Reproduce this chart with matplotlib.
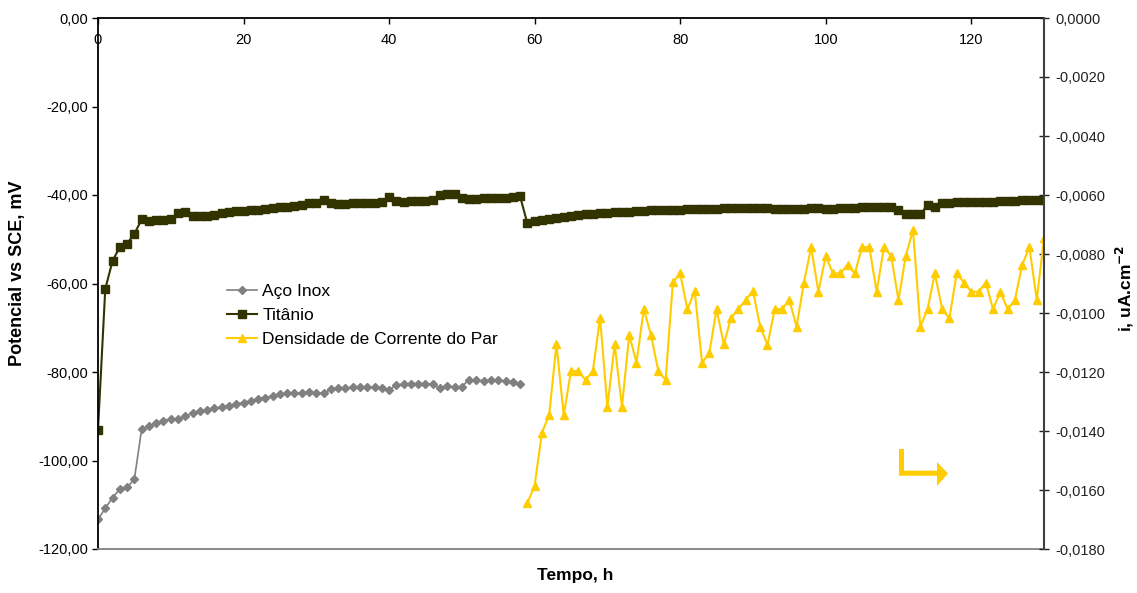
import matplotlib
matplotlib.use('Agg')
import matplotlib.pyplot as plt
from matplotlib.patches import Polygon
from matplotlib.ticker import FuncFormatter, MultipleLocator

plt.rcParams['font.family'] = ['Liberation Sans', 'DejaVu Sans']

# hours, one reading per hour
horas_inox = list(range(0, 59))
horas_ti = list(range(0, 131))
horas_par = list(range(59, 131))

# potential, mV vs SCE
aco_inox = [
    -113.3, -110.8, -108.4, -106.5, -106.1, -104.2, -92.9, -92.2, -91.6, -91.0,
    -90.6, -90.6, -90.0, -89.3, -88.8, -88.5, -88.1, -88.0, -87.6, -87.2,
    -86.9, -86.5, -86.1, -85.8, -85.4, -85.0, -84.8, -84.7, -84.7, -84.6,
    -84.7, -84.8, -83.9, -83.7, -83.6, -83.5, -83.5, -83.5, -83.5, -83.7,
    -84.1, -82.9, -82.8, -82.7, -82.6, -82.6, -82.8, -83.7, -83.1, -83.5,
    -83.3, -81.7, -81.9, -82.0, -81.9, -81.9, -82.1, -82.2, -82.8,
]

titanio = [
    -93.0, -61.2, -54.9, -51.7, -51.0, -48.8, -45.5, -45.8, -45.7, -45.6,
    -45.4, -44.1, -43.8, -44.7, -44.8, -44.7, -44.5, -44.0, -43.8, -43.7,
    -43.6, -43.4, -43.3, -43.1, -43.0, -42.8, -42.6, -42.5, -42.2, -41.9,
    -41.8, -41.1, -41.9, -42.0, -42.0, -41.9, -41.9, -41.9, -41.8, -41.5,
    -40.5, -41.4, -41.5, -41.4, -41.4, -41.3, -41.2, -39.9, -39.7, -39.8,
    -40.6, -40.8, -40.8, -40.7, -40.7, -40.6, -40.6, -40.5, -40.3,
    -46.4, -45.9, -45.6, -45.4, -45.2, -44.9, -44.7, -44.5, -44.3, -44.2,
    -44.1, -44.0, -43.9, -43.8, -43.8, -43.7, -43.6, -43.5, -43.5, -43.4,
    -43.3, -43.3, -43.2, -43.2, -43.2, -43.1, -43.1, -43.0, -43.0, -43.0,
    -42.9, -42.9, -43.0, -43.0, -43.1, -43.1, -43.1, -43.1, -43.1, -43.0,
    -43.0, -43.1, -43.1, -43.0, -42.9, -42.9, -42.8, -42.8, -42.7, -42.7,
    -42.8, -43.5, -44.4, -44.4, -44.4, -42.3, -42.6, -41.9, -41.8, -41.5,
    -41.5, -41.6, -41.6, -41.6, -41.5, -41.4, -41.3, -41.3, -41.2, -41.2,
    -41.2, -41.2,
]

# couple current density, uA/cm2 (right axis)
densidade_par = [
    -0.01645, -0.01585, -0.01406, -0.01346, -0.01106, -0.01346, -0.01197, -0.01197,
    -0.01227, -0.01197, -0.01016, -0.01318, -0.01106, -0.01318, -0.01075, -0.01168,
    -0.00987, -0.01075, -0.01197, -0.01227, -0.00896, -0.00866, -0.00987, -0.00925,
    -0.01168, -0.01137, -0.00987, -0.01106, -0.01016, -0.00987, -0.00956, -0.00925,
    -0.01046, -0.01108, -0.00987, -0.00987, -0.00956, -0.01046, -0.00897, -0.00777,
    -0.00928, -0.00807, -0.00866, -0.00866, -0.00837, -0.00866, -0.00777, -0.00777,
    -0.00928, -0.00777, -0.00807, -0.00956, -0.00807, -0.00719, -0.01046, -0.00987,
    -0.00866, -0.00987, -0.01018, -0.00866, -0.00897, -0.00928, -0.00928, -0.00897,
    -0.00987, -0.00928, -0.00987, -0.00956, -0.00837, -0.00777, -0.00956, -0.00747,
]


def virgula(casas):
    def fmt(v, pos):
        if abs(v) < 1e-12:
            v = 0.0
        return f'{v:.{casas}f}'.replace('.', ',')
    return FuncFormatter(fmt)


fig = plt.figure(figsize=(11.37, 5.93), dpi=100)
ax = fig.add_axes([98 / 1137, 44 / 593, 946 / 1137, 531 / 593])
ax2 = ax.twinx()

l1, = ax.plot(horas_inox, aco_inox, color='#808080', lw=1.2, marker='D',
              markersize=4.5, label='Aço Inox')
l2, = ax.plot(horas_ti, titanio, color='#333300', lw=1.5, marker='s',
              markersize=5.5, label='Titânio')
l3, = ax2.plot(horas_par, densidade_par, color='#FFCC00', lw=1.5, marker='^',
               markersize=6, label='Densidade de Corrente do Par')

ax.set_xlim(0, 130)
ax.set_ylim(-120, 0)
ax2.set_ylim(-0.018, 0)

ax.xaxis.set_major_locator(MultipleLocator(20))
ax.yaxis.set_major_locator(MultipleLocator(20))
ax2.yaxis.set_major_locator(MultipleLocator(0.002))
ax.yaxis.set_major_formatter(virgula(2))
ax2.yaxis.set_major_formatter(virgula(4))

ax.tick_params(axis='x', top=True, bottom=False, labeltop=True, labelbottom=False,
               direction='in', length=4, width=1, labelsize=10.5, pad=-21)
ax.tick_params(axis='y', direction='out', length=4, width=1, labelsize=10.5, pad=3)
ax2.tick_params(axis='y', direction='inout', length=7, width=1, labelsize=10.5,
                pad=5, colors='#222222')

for s in ['top', 'left']:
    ax.spines[s].set_color('black')
    ax.spines[s].set_linewidth(1.3)
ax.spines['bottom'].set_color('#808080')
ax.spines['bottom'].set_linewidth(1.3)
ax.spines['right'].set_visible(False)
for s in ['top', 'left', 'bottom']:
    ax2.spines[s].set_visible(False)
ax2.spines['right'].set_color('#404040')
ax2.spines['right'].set_linewidth(1.5)

ax.set_ylabel('Potencial vs SCE, mV', fontsize=13, fontweight='bold')
ax.yaxis.label.set(ha='center', va='center')
ax.yaxis.set_label_coords(-0.0846, 0.52)

ax2.set_ylabel(r'i, uA.cm$^{\mathbf{{-}2}}$', fontsize=12.5, fontweight='bold')
ax2.yaxis.label.set(ha='center', va='center', rotation=90)
ax2.yaxis.set_label_coords(1.0856, 0.49)

ax.xaxis.set_label_position('bottom')
ax.set_xlabel('Tempo, h', fontsize=12.5, fontweight='bold')
ax.xaxis.set_label_coords(0.504, -0.036)

ax.legend(handles=[l1, l2, l3], loc='upper left', bbox_to_anchor=(0.136, 0.499),
          frameon=False, fontsize=12.5, handlelength=1.75, handletextpad=0.3,
          labelspacing=0.5, borderpad=0, borderaxespad=0)

# yellow arrow pointing to the right-hand axis
seta = [(0.8467, 0.1883), (0.8520, 0.1883), (0.8520, 0.1475), (0.8869, 0.1475),
        (0.8869, 0.1638), (0.8985, 0.1422), (0.8869, 0.1186), (0.8869, 0.1380),
        (0.8467, 0.1380)]
ax2.add_patch(Polygon(seta, closed=True, transform=ax2.transAxes,
                      facecolor='#FFCC00', edgecolor='none'))

fig.savefig('out.png', dpi=100)
